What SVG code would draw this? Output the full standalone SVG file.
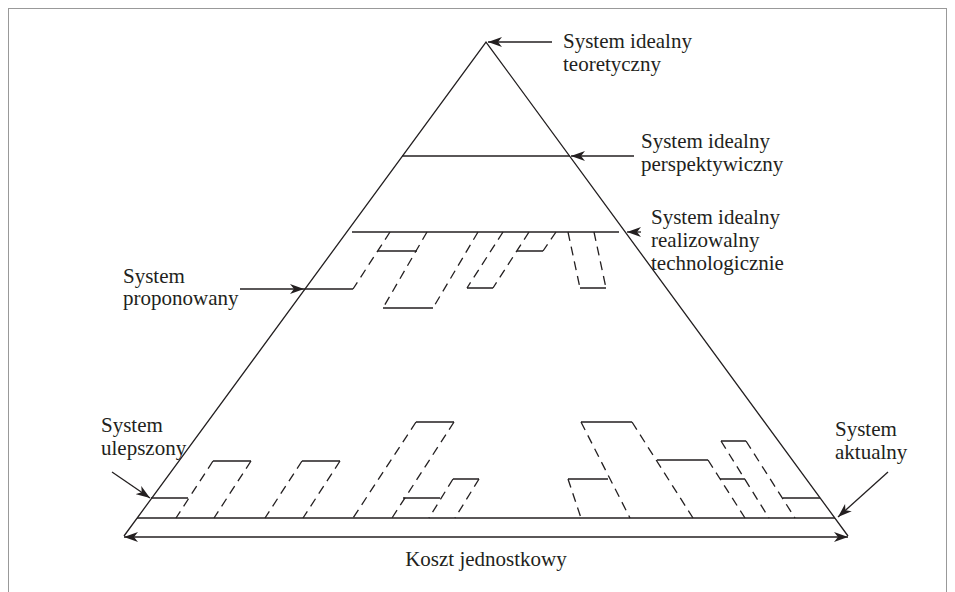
<svg xmlns="http://www.w3.org/2000/svg" width="955" height="592" viewBox="0 0 955 592">
<style>
.l{fill:none;stroke:#231f20;stroke-width:1.3}
.d{fill:none;stroke:#231f20;stroke-width:1.3;stroke-dasharray:9 6}
.a{fill:none;stroke:#231f20;stroke-width:1.3;marker-end:url(#ah)}
text{font-family:"Liberation Serif","Times New Roman",serif;font-size:21px;fill:#231f20}
</style>
<defs>
<marker id="ah" viewBox="0 0 14 10" refX="14" refY="5" markerWidth="14" markerHeight="10" markerUnits="userSpaceOnUse" orient="auto-start-reverse">
<path d="M0,0 L14,5 L0,10 L4,5 z" fill="#231f20"/>
</marker>
</defs>
<rect x="8.5" y="8.5" width="938" height="600" fill="none" stroke="#999" stroke-width="1"/>
<g id="connectors">
<path class="l" d="M124,536 L486,42 L848,536"/>
<path class="l" d="M402,156 L570,156"/>
<path class="l" d="M352,232 L619,232"/>
<path class="l" d="M137,518 L835,518"/>
<path class="l" d="M124,537 L848,537" marker-start="url(#ah)" marker-end="url(#ah)"/>
<path class="a" d="M552,42 L488,42"/>
<path class="a" d="M634,156 L571,156"/>
<path class="a" d="M641,232 L627,232"/>
<path class="a" d="M240,289 L304,289"/>
<path class="a" d="M112,472 L150,498"/>
<path class="a" d="M888,472 L838,517"/>
<path class="l" d="M304,289 L353,289 M378,251 L417,251 M383,308 L433,308 M467,288 L493,288 M517,251 L543,251 M580,288 L606,288"/>
<path class="d" d="M390,232 L353,289 M427,232 L383,308 M478,232 L433,308 M503,232 L467,288 M529,232 L493,288 M556,232 L543,251 M568,232 L580,288 M594,232 L606,288"/>
<path class="l" d="M151,498 L188,498 M213,461 L251,461 M302,461 L340,461 M416,422 L454,422 M403,498 L440,498 M453,479 L479,479 M581,422 L632,422 M568,479 L608,479 M657,460 L708,460 M721,441 L746,441 M720,479 L745,479 M783,498 L820,498"/>
<path class="d" d="M213,461 L176,518 M251,461 L214,518 M302,461 L265,518 M340,461 L303,518 M416,422 L353,518 M454,422 L392,518 M453,479 L429,518 M479,479 L455,518 M581,422 L630,518 M632,422 L693,518 M568,479 L581,518 M708,460 L745,518 M721,441 L769,518 M746,441 L795,518"/>
</g>
<g id="label-teoretyczny"><text x="563" y="48">System idealny</text><text x="563" y="71">teoretyczny</text></g>
<g id="label-perspektywiczny"><text x="641" y="148">System idealny</text><text x="641" y="171">perspektywiczny</text></g>
<g id="label-realizowalny"><text x="651" y="224">System idealny</text><text x="651" y="247">realizowalny</text><text x="651" y="270">technologicznie</text></g>
<g id="label-proponowany"><text x="123" y="283">System</text><text x="123" y="305">proponowany</text></g>
<g id="label-ulepszony"><text x="101" y="432">System</text><text x="101" y="455">ulepszony</text></g>
<g id="label-aktualny"><text x="835" y="436">System</text><text x="835" y="459">aktualny</text></g>
<g id="label-koszt"><text x="486" y="566" text-anchor="middle">Koszt jednostkowy</text></g>
</svg>
